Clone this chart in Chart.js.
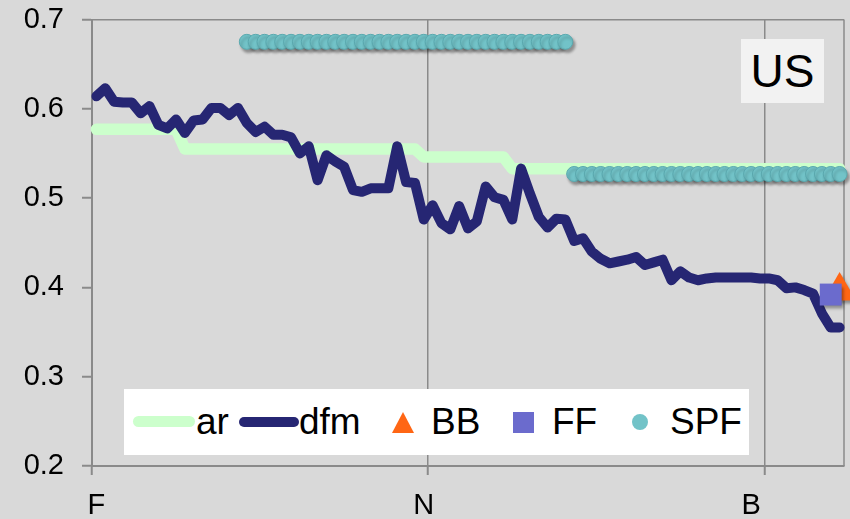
<!DOCTYPE html>
<html>
<head>
<meta charset="utf-8">
<script src="https://cdn.jsdelivr.net/npm/chart.js@4.4.1/dist/chart.umd.min.js"></script>
<style>
  body { margin: 0; background: #d9d9d9; }
  #wrap { position: relative; width: 850px; height: 519px; background: #d9d9d9;
          font-family: "Liberation Sans", Arial, sans-serif; }
  #grafico { position: absolute; left: 0; top: 0; }
  #cajaUS { position: absolute; left: 741px; top: 39px; width: 83px; height: 64px;
            background: #f2f2f2; display: flex; align-items: center; justify-content: center;
            font-size: 46px; color: #000; }
  #leyenda { position: absolute; left: 124px; top: 389px; width: 625px; height: 66px; background: #fff; }
  #leyenda .txt { position: absolute; top: 13.7px; font-size: 37px; line-height: 37px; color: #000; white-space: nowrap; }
  #leyenda .simb { position: absolute; }
</style>
</head>
<body>
<div id="wrap">
  <canvas id="grafico" width="850" height="519"></canvas>
  <div id="cajaUS">US</div>
  <div id="leyenda">
    <div class="simb" style="left:9px;top:27px;width:62px;height:11px;border-radius:5.5px;background:#ccffcc"></div>
    <span class="txt" style="left:72px">ar</span>
    <div class="simb" style="left:115px;top:28px;width:60px;height:10px;border-radius:5px;background:#262673"></div>
    <span class="txt" style="left:175px">dfm</span>
    <div class="simb" style="left:268px;top:23px;width:0;height:0;border-left:11px solid transparent;border-right:11px solid transparent;border-bottom:21px solid #ff6614"></div>
    <span class="txt" style="left:307px">BB</span>
    <div class="simb" style="left:389px;top:23px;width:21px;height:21px;background:#6b6bcd"></div>
    <span class="txt" style="left:428px">FF</span>
    <div class="simb" style="left:508px;top:25px;width:16px;height:16px;border-radius:8px;background:#72c3c8"></div>
    <span class="txt" style="left:546px">SPF</span>
  </div>
</div>
<script>
// ===================== DATOS =====================
const tickLabels = ["F", "N", "B"];
const tickLabelIdx = [0, 37, 74];   // category that carries each label
const gridIdx = [38, 76];           // vertical gridlines (category boundaries)
const tickMarkIdx = [0, 38, 76];    // tick marks below the x axis

const arValues = [
  0.577, 0.577, 0.577, 0.577, 0.577, 0.577, 0.577, 0.577, 0.577, 0.577,
  0.555, 0.555, 0.555, 0.555, 0.555, 0.555, 0.555, 0.555, 0.555, 0.555,
  0.555, 0.555, 0.555, 0.555, 0.555, 0.555, 0.555, 0.555, 0.555, 0.555,
  0.555, 0.555, 0.555, 0.555, 0.555, 0.555, 0.555,
  0.546, 0.546, 0.546, 0.546, 0.546, 0.546, 0.546, 0.546, 0.546, 0.546,
  0.533, 0.533, 0.533, 0.533, 0.533, 0.533, 0.533, 0.533, 0.533, 0.533,
  0.533, 0.533, 0.533, 0.533, 0.533, 0.533, 0.533, 0.533, 0.533, 0.533,
  0.533, 0.533, 0.533, 0.533, 0.533, 0.533, 0.533, 0.533, 0.533, 0.533,
  0.533, 0.533, 0.533, 0.533, 0.533, 0.533, 0.533, 0.533
];

const dfmValues = [
  0.614, 0.623, 0.608, 0.607, 0.607, 0.595, 0.603, 0.582, 0.578, 0.588,
  0.573, 0.587, 0.588, 0.601, 0.601, 0.593, 0.601, 0.584, 0.574, 0.580,
  0.571, 0.571, 0.568, 0.550, 0.558, 0.520, 0.548, 0.541, 0.535, 0.509,
  0.507, 0.511, 0.511, 0.511, 0.558, 0.518, 0.517, 0.476, 0.492, 0.472,
  0.465, 0.491, 0.466, 0.474, 0.513, 0.501, 0.498, 0.476, 0.533, 0.505,
  0.479, 0.467, 0.477, 0.476, 0.452, 0.455, 0.440, 0.432, 0.427, 0.429,
  0.431, 0.434, 0.425, 0.428, 0.431, 0.408, 0.418, 0.411, 0.408, 0.410,
  0.411, 0.411, 0.411, 0.411, 0.411, 0.410, 0.410, 0.408, 0.399, 0.400,
  0.397, 0.393, 0.371, 0.355, 0.355
];

const spfValues = [
  null, null, null, null, null, null, null, null, null, null,
  null, null, null, null, null, null, null,
  0.675, 0.675, 0.675, 0.675, 0.675, 0.675, 0.675, 0.675, 0.675, 0.675,
  0.675, 0.675, 0.675, 0.675, 0.675, 0.675, 0.675, 0.675, 0.675, 0.675,
  0.675, 0.675, 0.675, 0.675, 0.675, 0.675, 0.675, 0.675, 0.675, 0.675,
  0.675, 0.675, 0.675, 0.675, 0.675, 0.675, 0.675,
  0.527, 0.527, 0.527, 0.527, 0.527, 0.527, 0.527, 0.527, 0.527, 0.527,
  0.527, 0.527, 0.527, 0.527, 0.527, 0.527, 0.527, 0.527, 0.527, 0.527,
  0.527, 0.527, 0.527, 0.527, 0.527, 0.527, 0.527, 0.527, 0.527, 0.527,
  0.527
];

const bbIdx = [84];
const bbValues = [0.396];
const ffIdx = [83];
const ffValues = [0.392];

// ===================== CONSTRUCCION =====================
const N_POINTS = dfmValues.length;
const AXIS_GRAY = "#8a8a8a";

const categories = Array.from({ length: N_POINTS }, (_, i) => {
  const j = tickLabelIdx.indexOf(i);
  return j >= 0 ? tickLabels[j] : "";
});

function serieDispersa(idx, vals) {
  const out = new Array(N_POINTS).fill(null);
  idx.forEach((k, j) => { out[k] = vals[j]; });
  return out;
}

// ===================== PLUGINS =====================
const bordeDerecho = {
  id: "bordeDerecho",
  beforeDatasetsDraw(chart) {
    const { ctx, chartArea: a } = chart;
    ctx.save();
    ctx.strokeStyle = AXIS_GRAY;
    ctx.lineWidth = 1.5;
    ctx.beginPath();
    ctx.moveTo(a.right, a.top);
    ctx.lineTo(a.right, a.bottom);
    ctx.stroke();
    ctx.restore();
  },
};

const sombras = {
  id: "sombras",
  beforeDatasetDraw(chart, args) {
    const ds = chart.data.datasets[args.index];
    if (!ds.sombra) return;
    const ctx = chart.ctx;
    ctx.save();
    ctx.shadowColor = "rgba(0,0,0,0.35)";
    ctx.shadowBlur = 3;
    ctx.shadowOffsetX = 2;
    ctx.shadowOffsetY = 3;
  },
  afterDatasetDraw(chart, args) {
    const ds = chart.data.datasets[args.index];
    if (ds.sombra) chart.ctx.restore();
  },
};

// ===================== CHART =====================
Chart.defaults.font.family = '"Liberation Sans", Arial, sans-serif';

new Chart(document.getElementById("grafico").getContext("2d"), {
  type: "line",
  data: {
    labels: categories,
    datasets: [
      {
        label: "ar",
        data: arValues,
        borderColor: "#ccffcc",
        borderWidth: 11.5,
        pointRadius: 0,
        borderCapStyle: "round",
        borderJoinStyle: "round",
        order: 5,
      },
      {
        label: "dfm",
        data: dfmValues,
        borderColor: "#262673",
        borderWidth: 10,
        pointRadius: 0,
        borderCapStyle: "round",
        borderJoinStyle: "round",
        order: 4,
      },
      {
        label: "BB",
        data: serieDispersa(bbIdx, bbValues),
        showLine: false,
        pointStyle: "triangle",
        pointRadius: 19,
        borderWidth: 0,
        backgroundColor: "#ff6614",
        clip: false,
        sombra: true,
        order: 3,
      },
      {
        label: "FF",
        data: serieDispersa(ffIdx, ffValues),
        showLine: false,
        pointStyle: "rect",
        pointRadius: 15.5,
        borderWidth: 0,
        backgroundColor: "#6b6bcd",
        clip: false,
        sombra: true,
        order: 2,
      },
      {
        label: "SPF",
        data: spfValues,
        showLine: false,
        pointStyle: "circle",
        pointRadius: 7.5,
        borderWidth: 1,
        borderColor: "#5aa8ae",
        backgroundColor: "#72c3c8",
        clip: false,
        sombra: true,
        order: 1,
      },
    ],
  },
  options: {
    responsive: false,
    animation: false,
    events: [],
    layout: { autoPadding: false, padding: { top: 19.5, right: 6, left: 0, bottom: 0 } },
    plugins: {
      legend: { display: false },
      tooltip: { enabled: false },
    },
    scales: {
      x: {
        type: "category",
        offset: true,
        grid: {
          offset: true,
          color: (c) => (gridIdx.includes(c.index) ? AXIS_GRAY : "transparent"),
          tickColor: (c) => (tickMarkIdx.includes(c.index) ? AXIS_GRAY : "transparent"),
          lineWidth: 1.5,
          tickWidth: 2,
          tickLength: 9,
        },
        border: { color: AXIS_GRAY, width: 2 },
        ticks: {
          autoSkip: false,
          maxRotation: 0,
          minRotation: 0,
          padding: 14,
          color: "#000",
          font: { size: 29 },
          callback: (v, i) => categories[i],
        },
        afterFit: (s) => {
          s.height = 53;
          s.paddingLeft = 0;
          s.paddingRight = 0;
        },
      },
      y: {
        min: 0.2,
        max: 0.7,
        grid: {
          color: (c) => (c.tick && Math.abs(c.tick.value - 0.7) < 1e-9 ? AXIS_GRAY : "transparent"),
          tickColor: AXIS_GRAY,
          lineWidth: 1.5,
          tickWidth: 2,
          tickLength: 10,
        },
        border: { color: AXIS_GRAY, width: 2 },
        ticks: {
          stepSize: 0.1,
          padding: 18,
          color: "#000",
          font: { size: 29 },
          callback: (v) => v.toFixed(1),
        },
        afterFit: (s) => {
          s.width = 92;
          s.paddingTop = 0;
          s.paddingBottom = 0;
        },
      },
    },
  },
  plugins: [bordeDerecho, sombras],
});
</script>
</body>
</html>
